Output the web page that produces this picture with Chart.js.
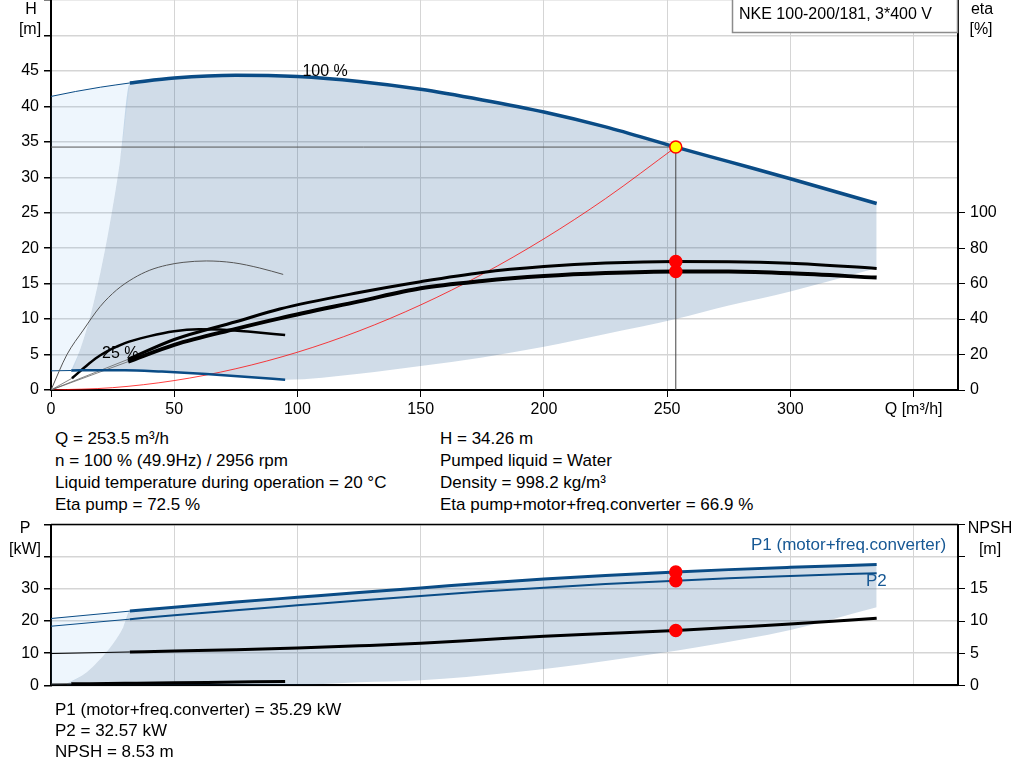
<!DOCTYPE html>
<html>
<head>
<meta charset="utf-8">
<script src="https://cdn.jsdelivr.net/npm/chart.js@4.4.1/dist/chart.umd.min.js"></script>
<style>
  body { margin: 0; background: #fff; width: 1024px; height: 781px; overflow: hidden; position: relative;
         font-family: 'Liberation Sans', Arial, sans-serif; color: #000; }
  canvas { position: absolute; left: 0; }
  #topChart { top: -20px; }
  #bottomChart { top: 510px; }
  .info { position: absolute; font-size: 17px; line-height: 22px; white-space: nowrap; }
</style>
</head>
<body>
<canvas id="topChart" width="1024" height="440"></canvas>
<div class="info" style="left:55px; top:428px">Q = 253.5 m³/h<br>n = 100 % (49.9Hz) / 2956 rpm<br>Liquid temperature during operation = 20 °C<br>Eta pump = 72.5 %</div>
<div class="info" style="left:440px; top:428px">H = 34.26 m<br>Pumped liquid = Water<br>Density = 998.2 kg/m³<br>Eta pump+motor+freq.converter = 66.9 %</div>
<canvas id="bottomChart" width="1024" height="190"></canvas>
<div class="info" style="left:55px; top:699px; line-height:21px">P1 (motor+freq.converter) = 35.29 kW<br>P2 = 32.57 kW<br>NPSH = 8.53 m</div>

<script>
// ---- duty point ----
const dutyQ = 253.5;
const dutyH = 34.26;
const dutyEtaPump = 72.5;
const dutyEtaTotal = 66.9;
const dutyP1 = 35.29;
const dutyP2 = 32.57;
const dutyNpsh = 8.53;

// ---- head curves, Q [m3/h] / H [m] ----
const qFull = [32, 50, 75, 100, 125, 150, 175, 200, 225, 253.5, 275, 300, 335];
const hFull = [43.3, 44.0, 44.4, 44.2, 43.5, 42.4, 40.9, 39.2, 37.1, 34.26, 32.2, 29.8, 26.3];
const qFullExt = [0, 10, 20, 32];
const hFullExt = [41.4, 42.1, 42.7, 43.3];
const q25 = [8.2, 20, 30, 45, 63, 80, 95];
const h25 = [2.75, 2.8, 2.8, 2.6, 2.25, 1.85, 1.45];
const q25Ext = [0, 8.2];
const h25Ext = [2.7, 2.75];
const qSystem = [0, 25, 50, 75, 100, 125, 150, 175, 200, 225, 253.5];
const hSystem = [0, 0.33, 1.33, 3.0, 5.33, 8.33, 12.0, 16.33, 21.32, 26.99, 34.26];

// ---- operating range edges ----
const qMinFlow = [8.2, 12, 16, 20, 24, 28, 32];
const hMinFlow = [2.77, 5.9, 10.5, 16.5, 23.7, 32.3, 43.3];
const qMaxEdge = [125, 150, 175, 200, 225, 253.5, 275, 300, 335];
const hMaxEdge = [2.3, 3.4, 4.6, 6.1, 7.9, 10.0, 11.9, 13.9, 17.2];

// ---- efficiency curves, eta [%] ----
const qEta = [31.3, 50, 75, 92.8, 125, 150, 175, 200, 225, 253.5, 275, 300, 335];
const etaPump = [17.3, 28.5, 38.5, 45.7, 55, 61.1, 66.3, 69.6, 71.6, 72.5, 72.4, 71.5, 68.6];
const etaTotal = [16, 25.5, 34.5, 40.4, 50, 57.4, 61.5, 64.3, 66, 66.9, 66.8, 65.8, 63.4];
const qEta25 = [8.5, 15, 20, 30, 40, 50, 60, 70, 81, 95];
const etaTotal25 = [6.6, 14.4, 19.6, 26.4, 30.4, 33.2, 34.2, 34.0, 32.8, 31.0];
const qEtaPump25 = [0, 6.4, 13.1, 19.9, 26.6, 33.4, 40.1, 46.9, 53.6, 63, 74, 84.7, 94.2];
const etaPump25 = [0, 19.8, 33.8, 47, 56.4, 63, 67.6, 70.4, 72, 72.8, 71.8, 68.8, 65.2];

// ---- power and NPSH, P [kW] / NPSH [m] ----
const qP = [32, 50, 75, 100, 125, 150, 175, 200, 225, 253.5, 275, 300, 335];
const p1 = [23.1, 24.3, 25.9, 27.4, 28.9, 30.3, 31.8, 33.1, 34.2, 35.29, 36.0, 36.7, 37.6];
const p2 = [20.6, 21.8, 23.4, 24.9, 26.4, 27.8, 29.2, 30.4, 31.5, 32.57, 33.3, 34.0, 34.9];
const npsh = [5.2, 5.35, 5.55, 5.8, 6.15, 6.55, 7.1, 7.65, 8.05, 8.53, 9.0, 9.55, 10.45];
const qPExt = [0, 32];
const p1Ext = [20.8, 23.1];
const p2Ext = [18.4, 20.6];
const npshExt = [4.95, 5.2];
const qP25 = [8.2, 30, 50, 70, 95];
const p25 = [0.5, 0.65, 0.8, 1.0, 1.25];
const qPMin = [6.4, 14.5, 19.9, 25.3, 29.3, 32];
const pMin = [0.6, 4.1, 8.1, 13.1, 18.1, 23.1];
const qPMaxEdge = [6.4, 50, 100, 125, 150, 187, 225, 264, 300, 335];
const pMaxEdge = [0, 0, 0.2, 1.0, 1.6, 4.0, 7.6, 12.1, 17.2, 24.3];

const BLUE = '#0a4c86';
const GREY_FILL = 'rgba(22, 80, 140, 0.2)';
const LIGHT_FILL = 'rgba(100, 170, 240, 0.11)';
const FONT = "'Liberation Sans', Arial, sans-serif";
const TOP_OFF = 20;   // top canvas sits 20px above the page edge

Chart.defaults.font.family = FONT;
Chart.defaults.font.size = 16;
Chart.defaults.color = '#000';

function pts(xs, ys) {
  return xs.map((x, i) => ({ x: x, y: ys[i] }));
}

function curve(xs, ys, color, width, axis) {
  return {
    data: pts(xs, ys), borderColor: color, borderWidth: width, pointRadius: 0,
    fill: false, cubicInterpolationMode: 'monotone', yAxisID: axis || 'y'
  };
}

function edge(xs, ys, target, color) {
  return {
    data: pts(xs, ys), borderColor: 'transparent', borderWidth: 0, pointRadius: 0,
    backgroundColor: color, fill: target === undefined ? false : target,
    cubicInterpolationMode: 'monotone', yAxisID: 'y'
  };
}

function dots(xs, ys, axis, bg) {
  return {
    data: pts(xs, ys), showLine: false, pointRadius: 6, pointBorderWidth: 1.5,
    pointBackgroundColor: bg, pointBorderColor: '#ff0000', yAxisID: axis
  };
}

function fixAxis(size, horizontal) {
  return (s) => {
    if (horizontal) s.height = size; else s.width = size;
  };
}

const gridColor = '#d5d5d5';

// ================= top chart =================
const topSets = [
  dots([dutyQ], [dutyH], 'y', '#ffff00'),
  dots([dutyQ, dutyQ], [dutyEtaPump, dutyEtaTotal], 'eta', '#ff0000'),
  curve(qFull, hFull, BLUE, 3.5),
  curve(qEta, etaPump, '#000', 3, 'eta'),
  curve(qEta, etaTotal, '#000', 4, 'eta'),
  curve(q25, h25, BLUE, 2.5),
  curve(qEta25, etaTotal25, '#000', 2.5, 'eta'),
  curve(qEtaPump25, etaPump25, '#555', 1, 'eta'),
  curve(qFullExt, hFullExt, BLUE, 1),                 // 8: light area source
  curve(q25Ext, h25Ext, BLUE, 1),
  curve([0, qEta[0]], [0, etaPump[0]], '#666', 0.8, 'eta'),
  curve([0, qEta[0]], [0, etaTotal[0]], '#666', 0.8, 'eta'),
  curve([0, qEta25[0]], [0, etaTotal25[0]], '#666', 0.8, 'eta'),
  curve(qSystem, hSystem, 'rgba(255,0,0,0.75)', 1),
  curve([0, dutyQ], [dutyH, dutyH], '#555', 1),
  curve([dutyQ, dutyQ], [0, dutyH], '#444', 1),
  edge(qMinFlow.concat(qFull.slice(1)), hMinFlow.concat(hFull.slice(1)), 17, GREY_FILL),  // 16
  edge(q25.concat(qMaxEdge), h25.concat(hMaxEdge)),                                         // 17
  edge([0].concat(qMinFlow), [h25Ext[0]].concat(hMinFlow))                                  // 18
];
topSets[8].fill = 18;
topSets[8].backgroundColor = LIGHT_FILL;
topSets[14].cubicInterpolationMode = 'default';
topSets[15].cubicInterpolationMode = 'default';

const topText = {
  id: 'topText',
  afterDraw(chart) {
    const { ctx } = chart;
    const x = chart.scales.x, y = chart.scales.y;
    const o = TOP_OFF;
    ctx.save();
    ctx.font = '16px ' + FONT;
    ctx.fillStyle = '#000';
    ctx.textAlign = 'center';
    ctx.textBaseline = 'middle';
    ctx.fillText('H', 31, o + 10);
    ctx.fillText('[m]', 30, o + 30);
    ctx.fillText('eta', 982, o + 10);
    ctx.fillText('[%]', 981, o + 30);
    ctx.fillStyle = '#fff';
    ctx.fillRect(732, o, 226, 33);
    ctx.strokeStyle = '#8c8c8c';
    ctx.lineWidth = 1.5;
    ctx.strokeRect(732.5, o - 1, 225, 33.5);
    ctx.fillStyle = '#000';
    ctx.textAlign = 'left';
    ctx.fillText('NKE 100-200/181, 3*400 V', 739, o + 15);
    ctx.fillText('100 %', x.getPixelForValue(102), y.getPixelForValue(44.85));
    ctx.fillText('25 %', x.getPixelForValue(20.7), y.getPixelForValue(5.1));
    ctx.restore();
  }
};

new Chart(document.getElementById('topChart'), {
  type: 'line',
  data: { datasets: topSets },
  options: {
    responsive: false,
    animation: false,
    layout: { padding: { top: TOP_OFF } },
    plugins: { legend: { display: false }, tooltip: { enabled: false },
               filler: { propagate: false, drawTime: 'beforeDatasetsDraw' } },
    scales: {
      x: {
        type: 'linear', min: 0, max: 368,
        ticks: { stepSize: 50, includeBounds: false, autoSkip: false, maxRotation: 0, padding: 3,
                 callback: (v) => v === 350 ? 'Q [m³/h]' : v },
        grid: { color: gridColor, tickColor: '#000', tickLength: 7 },
        border: { color: '#000', width: 2 },
        afterFit: fixAxis(30, true)
      },
      y: {
        position: 'left', min: 0, max: 55,
        ticks: { stepSize: 5, includeBounds: false, autoSkip: false, padding: 5,
                 callback: (v) => v >= 50 ? '' : v },
        grid: { color: gridColor, lineWidth: 1.5, tickColor: '#000', tickLength: 7 },
        border: { color: '#000', width: 2 },
        afterFit: fixAxis(51)
      },
      eta: {
        position: 'right', min: 0, max: 220,
        ticks: { stepSize: 20, autoSkip: false, padding: 5 },
        afterBuildTicks: (s) => { s.ticks = s.ticks.filter((t) => t.value <= 100); },
        grid: { drawOnChartArea: false, tickColor: '#000', tickLength: 7 },
        border: { color: '#000', width: 2 },
        afterFit: fixAxis(66)
      }
    }
  },
  plugins: [topText]
});

// ================= bottom chart =================
const bottomSets = [
  dots([dutyQ, dutyQ], [dutyP1, dutyP2], 'y', '#ff0000'),
  dots([dutyQ], [dutyNpsh], 'npsh', '#ff0000'),
  curve(qP, p1, BLUE, 3),
  curve(qP, p2, BLUE, 2),
  curve(qP, npsh, '#000', 3, 'npsh'),
  curve(qP25, p25, '#000', 3),
  curve(qPExt, p1Ext, BLUE, 1),                       // 6: light area source
  curve(qPExt, p2Ext, BLUE, 1),
  curve(qPExt, npshExt, '#000', 1, 'npsh'),
  curve([0, qP25[0]], [0.45, p25[0]], '#333', 1),
  edge(qPMin.concat(qP.slice(1)), pMin.concat(p1.slice(1)), 11, GREY_FILL),   // 10
  edge(qPMaxEdge, pMaxEdge),                                                   // 11
  edge([0].concat(qPMin), [0].concat(pMin))                                    // 12
];
bottomSets[6].fill = 12;
bottomSets[6].backgroundColor = LIGHT_FILL;

const bottomText = {
  id: 'bottomText',
  afterDraw(chart) {
    const { ctx, chartArea } = chart;
    ctx.save();
    ctx.strokeStyle = '#000';
    ctx.lineWidth = 1.5;
    ctx.beginPath();
    ctx.moveTo(chartArea.left, chartArea.top);
    ctx.lineTo(chartArea.right, chartArea.top);
    ctx.stroke();
    ctx.font = '16px ' + FONT;
    ctx.fillStyle = '#000';
    ctx.textAlign = 'center';
    ctx.textBaseline = 'middle';
    ctx.fillText('P', 25, 19);
    ctx.fillText('[kW]', 25, 40);
    ctx.fillText('NPSH', 990, 19);
    ctx.fillText('[m]', 990, 40);
    ctx.font = '17px ' + FONT;
    ctx.fillStyle = '#175894';
    ctx.textAlign = 'left';
    ctx.fillText('P1 (motor+freq.converter)', 751, 35);
    ctx.fillText('P2', 866, 71);
    ctx.restore();
  }
};

new Chart(document.getElementById('bottomChart'), {
  type: 'line',
  data: { datasets: bottomSets },
  options: {
    responsive: false,
    animation: false,
    layout: { padding: { top: 10 } },
    plugins: { legend: { display: false }, tooltip: { enabled: false },
               filler: { propagate: false, drawTime: 'beforeDatasetsDraw' } },
    scales: {
      x: {
        type: 'linear', min: 0, max: 368,
        ticks: { display: false, stepSize: 50, includeBounds: false },
        grid: { color: gridColor, drawTicks: false },
        border: { color: '#000', width: 2 },
        afterFit: fixAxis(13, true)
      },
      y: {
        position: 'left', min: 0, max: 50,
        ticks: { stepSize: 10, autoSkip: false, padding: 5, callback: (v) => v >= 40 ? '' : v },
        grid: { color: gridColor, lineWidth: 1.5, tickColor: '#000', tickLength: 7 },
        border: { color: '#000', width: 2 },
        afterFit: fixAxis(51)
      },
      npsh: {
        position: 'right', min: 0, max: 25,
        ticks: { stepSize: 5, autoSkip: false, padding: 5, callback: (v) => v >= 20 ? '' : v },
        grid: { drawOnChartArea: false, tickColor: '#000', tickLength: 7 },
        border: { color: '#000', width: 2 },
        afterFit: fixAxis(66)
      }
    }
  },
  plugins: [bottomText]
});
</script>
</body>
</html>
